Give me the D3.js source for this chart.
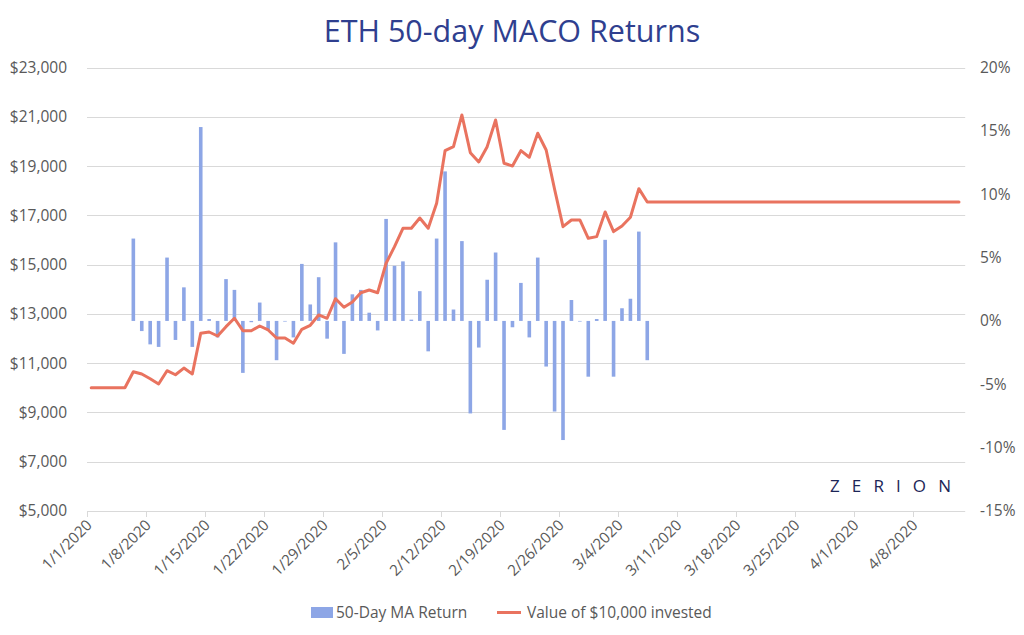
<!DOCTYPE html>
<html>
<head>
<meta charset="utf-8">
<script src="https://cdn.jsdelivr.net/npm/d3@7"></script>
<style>
  html, body { margin: 0; padding: 0; background: #fff; }
  svg { display: block; font-family: "Open Sans", "Noto Sans", sans-serif; }
</style>
</head>
<body>
<svg id="chart" width="1024" height="635"></svg>
<script>
// ---------- data ----------
const startDate = "2020-01-01";
const dayCount = 104;
const leftTicks = [5000, 7000, 9000, 11000, 13000, 15000, 17000, 19000, 21000, 23000];
const rightTicks = [-15, -10, -5, 0, 5, 10, 15, 20];
const xTickLabels = ["1/1/2020","1/8/2020","1/15/2020","1/22/2020","1/29/2020","2/5/2020","2/12/2020","2/19/2020","2/26/2020","3/4/2020","3/11/2020","3/18/2020","3/25/2020","4/1/2020","4/8/2020"];
// Value of $10,000 invested, one per day from 1/1/2020
const investedValue = [
  10000,10000,10000,10000,10000,10654,10560,10370,10155,10695,
  10530,10800,10560,12213,12265,12103,12481,12822,12318,12318,
  12509,12347,12022,12022,11807,12375,12537,12956,12822,13617,
  13268,13483,13860,13970,13860,15054,15728,16475,16475,16893,
  16475,17490,19625,19787,21074,19544,19166,19787,20871,19113,
  19003,19625,19357,20331,19652,18058,16540,16812,16812,16069,
  16136,17137,16339,16568,16921,18082,17542,17542,17542,17542,
  17542,17542,17542,17542,17542,17542,17542,17542,17542,17542,
  17542,17542,17542,17542,17542,17542,17542,17542,17542,17542,
  17542,17542,17542,17542,17542,17542,17542,17542,17542,17542,
  17542,17542,17542,17542
];
// 50-Day MA Return (%), one per day from 1/6/2020 to 3/7/2020
const returnStartIndex = 5;
const maReturn = [
  6.5,-0.8,-1.85,-2.05,5.0,-1.5,2.65,-2.05,15.3,0.15,
  -1.3,3.3,2.45,-4.1,-0.1,1.45,-0.75,-3.1,-0.05,-1.3,
  4.5,1.3,3.45,-1.4,6.2,-2.6,2.1,2.45,0.65,-0.75,
  8.05,4.35,4.7,0.1,2.35,-2.4,6.5,11.8,0.9,6.3,
  -7.3,-2.1,3.25,5.4,-8.6,-0.5,3.0,-1.3,5.0,-3.6,
  -7.15,-9.4,1.65,-0.05,-4.4,0.15,6.4,-4.4,1.0,1.75,
  7.05,-3.1
];

// ---------- layout ----------
const svg = d3.select("#chart");
const plot = { left: 87, right: 963.2, top: 67.5, bottom: 511 };
const days = d3.range(dayCount);

const x = d3.scaleBand().domain(days).range([plot.left, plot.right]).paddingInner(0).paddingOuter(0);
const yL = d3.scaleLinear().domain([5000, 23000]).range([plot.bottom, plot.top]);
const yR = d3.scaleLinear().domain([-15, 20]).range([plot.bottom, plot.top]);

const gridColor = "#d9d9d9";
const textColor = "#595959";
const barColor = "#8da6e6";
const lineColor = "#e9735f";

// title
svg.append("text")
  .attr("x", 512).attr("y", 42)
  .attr("text-anchor", "middle")
  .attr("font-size", 30.5)
  .attr("fill", "#2f3f8f")
  .text("ETH 50-day MACO Returns");

// gridlines
svg.append("g").selectAll("line").data(leftTicks.slice(1)).join("line")
  .attr("x1", plot.left).attr("x2", plot.right + 2)
  .attr("y1", d => Math.round(yL(d)) + 0.5).attr("y2", d => Math.round(yL(d)) + 0.5)
  .attr("stroke", gridColor).attr("stroke-width", 1);

// left axis
const leftAxis = d3.axisLeft(yL).tickValues(leftTicks).tickSize(0).tickPadding(0)
  .tickFormat(d => "$" + d3.format(",")(d));
const gL = svg.append("g").attr("transform", `translate(67,0)`).call(leftAxis);
gL.select(".domain").remove();
gL.selectAll("text").attr("font-size", 15.5).attr("fill", textColor).attr("font-family", "Open Sans");

// right axis
const rightAxis = d3.axisRight(yR).tickValues(rightTicks).tickSize(0).tickPadding(0)
  .tickFormat(d => d + "%");
const gR = svg.append("g").attr("transform", `translate(980,0)`).call(rightAxis);
gR.select(".domain").remove();
gR.selectAll("text").attr("font-size", 15.5).attr("fill", textColor).attr("font-family", "Open Sans");

// bottom axis
const tickDays = d3.range(0, dayCount, 7);
const gX = svg.append("g");
gX.append("line")
  .attr("x1", plot.left).attr("x2", plot.right + 2)
  .attr("y1", Math.round(plot.bottom) + 0.5).attr("y2", Math.round(plot.bottom) + 0.5)
  .attr("stroke", gridColor);
gX.selectAll("line.tk").data(tickDays).join("line").attr("class", "tk")
  .attr("x1", d => Math.round(x(d)) + 0.5).attr("x2", d => Math.round(x(d)) + 0.5)
  .attr("y1", plot.bottom).attr("y2", plot.bottom + 6)
  .attr("stroke", gridColor);
gX.selectAll("text").data(tickDays).join("text")
  .attr("transform", d => `translate(${x(d) + 6},${plot.bottom + 15}) rotate(-45)`)
  .attr("text-anchor", "end")
  .attr("font-size", 15.2)
  .attr("fill", textColor)
  .text((d, i) => xTickLabels[i]);

// bars
const barW = 3.6;
svg.append("g").selectAll("rect").data(maReturn).join("rect")
  .attr("x", (d, i) => x(i + returnStartIndex) + x.bandwidth() / 2 - barW / 2)
  .attr("width", barW)
  .attr("y", d => yR(Math.max(0, d)))
  .attr("height", d => Math.abs(yR(d) - yR(0)))
  .attr("fill", barColor);

// line
const line = d3.line().x((d, i) => x(i) + x.bandwidth() / 2).y(d => yL(d));
svg.append("path").datum(investedValue)
  .attr("d", line)
  .attr("fill", "none")
  .attr("stroke", lineColor)
  .attr("stroke-width", 3)
  .attr("stroke-linejoin", "round")
  .attr("stroke-linecap", "round");

// zerion logo text
svg.append("text")
  .attr("x", 830).attr("y", 492)
  .attr("font-size", 17)
  .attr("fill", "#1c2557")
  .attr("font-weight", 400)
  .attr("textLength", 121)
  .attr("lengthAdjust", "spacing")
  .text("ZERION");

// legend
const lg = svg.append("g");
lg.append("rect").attr("x", 311).attr("y", 607).attr("width", 22).attr("height", 11).attr("fill", barColor);
lg.append("text").attr("x", 336).attr("y", 618).attr("font-size", 15.5).attr("fill", textColor).text("50-Day MA Return");
lg.append("line").attr("x1", 497).attr("x2", 521).attr("y1", 612.5).attr("y2", 612.5)
  .attr("stroke", lineColor).attr("stroke-width", 3);
lg.append("text").attr("x", 527).attr("y", 618).attr("font-size", 15.5).attr("fill", textColor).text("Value of $10,000 invested");
</script>
</body>
</html>
